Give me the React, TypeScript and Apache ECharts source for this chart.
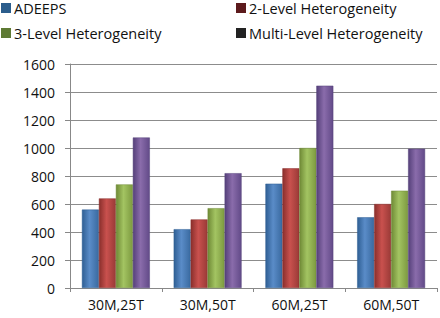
import React, { useEffect, useRef } from "react";
import * as echarts from "echarts";

const categories = ["30M,25T", "30M,50T", "60M,25T", "60M,50T"];
const seriesNames = ["ADEEPS", "2-Level Heterogeneity", "3-Level Heterogeneity", "Multi-Level Heterogeneity"];
const adeeps = [560, 420, 745, 505];
const level2 = [640, 490, 855, 600];
const level3 = [740, 570, 1000, 695];
const multiLevel = [1075, 820, 1445, 995];
const yTicks = [0, 200, 400, 600, 800, 1000, 1200, 1400, 1600];

const barColors = [
  ["#2f5f94", "#5a8cc8", "#3a6aa0"],
  ["#8a2f2c", "#c9514e", "#9a3a37"],
  ["#6f8a36", "#a3c462", "#7d9a40"],
  ["#55407a", "#8a6cab", "#624a88"],
];
const legendColors = ["#2b5d8c", "#5c1a1c", "#5e7a34", "#222222"];
const FONT = "Open Sans";

export default function App() {
  const ref = useRef<HTMLDivElement>(null);
  useEffect(() => {
    if (!ref.current) return;
    const chart = echarts.init(ref.current, null, { renderer: "svg" });
    const values = [adeeps, level2, level3, multiLevel];
    const series = values.map((data, i) => ({
      name: seriesNames[i],
      type: "bar",
      data,
      barGap: "0%",
      barCategoryGap: "26%",
      itemStyle: {
        color: new echarts.graphic.LinearGradient(0, 0, 1, 0, [
          { offset: 0, color: barColors[i][0] },
          { offset: 0.45, color: barColors[i][1] },
          { offset: 1, color: barColors[i][2] },
        ]),
        borderColor: barColors[i][0],
        borderWidth: 0.5,
      },
    }));
    const legendPos = [
      { x: 1, y: 8 },
      { x: 236, y: 8 },
      { x: 1, y: 33 },
      { x: 236, y: 33 },
    ];
    const legendGraphics: any[] = [];
    seriesNames.forEach((name, i) => {
      const p = legendPos[i];
      legendGraphics.push({
        type: "rect",
        shape: { x: p.x, y: p.y - 5, width: 10, height: 10 },
        style: { fill: legendColors[i] },
      });
      legendGraphics.push({
        type: "text",
        x: p.x + 13,
        y: p.y,
        style: {
          text: name,
          fontFamily: FONT,
          fontSize: 14.5,
          fill: "#111",
          textVerticalAlign: "middle",
          verticalAlign: "middle",
        },
      });
    });
    chart.setOption({
      animation: false,
      graphic: legendGraphics,
      grid: { left: 70, right: 3, top: 64, bottom: 30, containLabel: false },
      xAxis: {
        type: "category",
        data: categories,
        axisLine: { lineStyle: { color: "#888", width: 1 } },
        axisTick: { show: true, length: 4, lineStyle: { color: "#888" } },
        axisLabel: { fontFamily: FONT, fontSize: 14, color: "#111", margin: 9 },
      },
      yAxis: {
        type: "value",
        min: yTicks[0],
        max: yTicks[yTicks.length - 1],
        interval: 200,
        axisLine: { show: true, lineStyle: { color: "#888" } },
        axisTick: { show: true, length: 5, lineStyle: { color: "#888" } },
        splitLine: { lineStyle: { color: "#8c8c8c", width: 1 } },
        axisLabel: {
          fontFamily: FONT,
          fontSize: 14,
          color: "#111",
          margin: 15,
          formatter: (v: number) => String(v),
        },
      },
      series,
    });
    return () => chart.dispose();
  }, []);
  return <div ref={ref} style={{ width: 440, height: 318, position: "absolute", left: 0, top: 0 }} />;
}
